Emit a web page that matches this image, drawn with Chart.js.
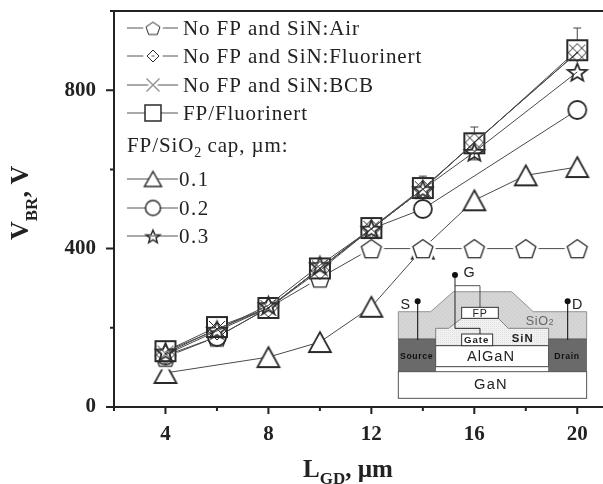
<!DOCTYPE html>
<html>
<head>
<meta charset="utf-8">
<script src="https://cdn.jsdelivr.net/npm/chart.js@4/dist/chart.umd.min.js"></script>
<style>
    html, body { margin: 0; padding: 0; background: #fff; }
    #box { position: relative; width: 603px; height: 484px; overflow: hidden; }
    #inset { position: absolute; left: 370px; top: 260px; }
    #inset text { font-family: "Liberation Sans", sans-serif; fill: #222; text-anchor: middle; }
</style>
</head>
<body>
<div id="box">
    <canvas id="grafico" width="603" height="484"></canvas>
    <svg id="inset" width="233.3" height="224" viewBox="0 0 700 672">
        <defs>
            <pattern id="dotsLight" width="6" height="6" patternUnits="userSpaceOnUse">
                <rect width="6" height="6" fill="#f1f1f1"/><circle cx="2" cy="2" r="1.2" fill="#c4c4c4"/>
            </pattern>
            <pattern id="dotsDark" width="12" height="12" patternUnits="userSpaceOnUse">
                <rect width="12" height="12" fill="#d2d2d2"/><circle cx="3" cy="3" r="1.4" fill="#f4f4f4"/><circle cx="9" cy="9" r="1.4" fill="#f4f4f4"/>
            </pattern>
        </defs>
        <polygon points="85,237 85,155 182,155 250,95 425,95 490,155 650,155 650,237" fill="url(#dotsDark)" stroke="#666" stroke-width="2"/>
        <polygon points="197,257 197,205 236,205 275,175 385,175 415,205 536,205 536,257" fill="url(#dotsLight)" stroke="#555" stroke-width="2"/>
        <rect x="85" y="335" width="565" height="80" fill="#fff" stroke="#555" stroke-width="3"/>
        <rect x="197" y="257" width="339" height="63" fill="#fff" stroke="#444" stroke-width="3"/>
        <rect x="85" y="237" width="112" height="98" fill="#6a6a6a" stroke="#555" stroke-width="2"/>
        <rect x="536" y="237" width="114" height="98" fill="#6a6a6a" stroke="#555" stroke-width="2"/>
        <rect x="275" y="142" width="110" height="33" fill="#fff" stroke="#333" stroke-width="3"/>
        <rect x="275" y="222" width="93" height="35" fill="#fff" stroke="#333" stroke-width="3"/>
        <polyline points="255,45 255,205 330,205 330,222" fill="none" stroke="#222" stroke-width="3"/>
        <polyline points="255,77 330,77 330,142" fill="none" stroke="#333" stroke-width="2.5"/>
        <line x1="143" y1="124" x2="143" y2="240" stroke="#222" stroke-width="3.5"/>
        <line x1="593" y1="124" x2="593" y2="240" stroke="#222" stroke-width="3.5"/>
        <circle cx="255" cy="45" r="9" fill="#111"/>
        <circle cx="143" cy="124" r="9" fill="#111"/>
        <circle cx="593" cy="124" r="9" fill="#111"/>
        <text x="297" y="50" font-size="43">G</text>
        <text x="106" y="146" font-size="43">S</text>
        <text x="622" y="146" font-size="43">D</text>
        <text x="330" y="170" font-size="32" letter-spacing="2">FP</text>
        <text x="510" y="196" font-size="38" letter-spacing="2" style="fill:#666">SiO<tspan font-size="26">2</tspan></text>
        <text x="320" y="250" font-size="29" font-weight="bold" letter-spacing="3">Gate</text>
        <text x="458" y="245" font-size="34" font-weight="bold" letter-spacing="3">SiN</text>
        <text x="363" y="304" font-size="44" letter-spacing="3">AlGaN</text>
        <text x="140" y="296" font-size="26" font-weight="bold" letter-spacing="2" style="fill:#111">Source</text>
        <text x="591" y="296" font-size="26" font-weight="bold" letter-spacing="2" style="fill:#111">Drain</text>
        <text x="363" y="386" font-size="44" letter-spacing="4">GaN</text>
    </svg>
</div>
<script>
// ================= DADOS =================
const xAir = [4, 6, 8, 10, 12, 14, 16, 18, 20];
const yAir = [126, 177, 250, 326, 400, 400, 400, 400, 400];

const xFluorinert = [4, 6, 8, 10, 12, 14, 16, 20];
const yFluorinert = [132, 192, 250, 345, 450, 550, 668, 895];

const xBcb = [4, 6, 8, 10, 12, 14, 16, 20];
const yBcb = [135, 197, 250, 350, 450, 550, 668, 895];

const xFp = [4, 6, 8, 10, 12, 14, 16, 20];
const yFp = [141, 202, 250, 350, 452, 553, 666, 901];

const xCap01 = [4, 8, 10, 12, 14, 16, 18, 20];
const yCap01 = [86, 126, 164, 253, 400, 522, 585, 606];

const xCap02 = [4, 6, 8, 10, 12, 14, 20];
const yCap02 = [130, 177, 250, 350, 450, 500, 750];

const xCap03 = [4, 6, 8, 10, 12, 14, 16, 20];
const yCap03 = [140, 195, 257, 358, 450, 550, 644, 846];

// barras de erro da serie FP/Fluorinert
const errX = [14, 16, 20];
const errHigh = [583, 707, 957];
const errLow = [553, 624, 901];

const xTicks = [4, 8, 12, 16, 20];
const yTicks = [0, 400, 800];

const COR_TEXTO = "#222";
const COR_LINHA = "#4a4a4a";

// ================= MARCADORES =================
function criarMarcador(forma, largura, altura, espessura, halo) {
    const m = 4;
    const c = document.createElement("canvas");
    c.width = largura + m * 2;
    c.height = altura + m * 2;
    const g = c.getContext("2d");
    const cx = c.width / 2, cy = c.height / 2;
    const rx = largura / 2, ry = altura / 2;
    let fundo = "#fff";

    g.beginPath();
    if (forma === "quadrado") {
        g.rect(cx - rx, cy - ry, largura, altura);
    } else if (forma === "circulo") {
        g.arc(cx, cy, rx, 0, Math.PI * 2);
    } else if (forma === "triangulo") {
        g.moveTo(cx, cy - ry); g.lineTo(cx + rx, cy + ry); g.lineTo(cx - rx, cy + ry); g.closePath();
    } else if (forma === "losango") {
        fundo = null;
        g.moveTo(cx, cy - ry); g.lineTo(cx + rx, cy); g.lineTo(cx, cy + ry); g.lineTo(cx - rx, cy); g.closePath();
    } else if (forma === "xis") {
        fundo = null;
        g.moveTo(cx - rx, cy - ry); g.lineTo(cx + rx, cy + ry);
        g.moveTo(cx + rx, cy - ry); g.lineTo(cx - rx, cy + ry);
    } else if (forma === "pentagono") {
        for (let i = 0; i < 5; i++) {
            const a = -Math.PI / 2 + i * 2 * Math.PI / 5;
            g.lineTo(cx + rx * 1.05 * Math.cos(a), cy + 1 + ry * 1.05 * Math.sin(a));
        }
        g.closePath();
    } else if (forma === "estrela") {
        fundo = null;
        for (let i = 0; i < 10; i++) {
            const a = -Math.PI / 2 + i * Math.PI / 5;
            const r = i % 2 === 0 ? 1.05 : 0.45;
            g.lineTo(cx + rx * r * Math.cos(a), cy + 1 + ry * r * Math.sin(a));
        }
        g.closePath();
    }
    if (halo) {
        g.strokeStyle = "#fff";
        g.lineWidth = espessura + 5;
        g.stroke();
    }
    if (fundo) {
        g.fillStyle = fundo;
        g.fill();
    }
    g.strokeStyle = "#2a2a2a";
    g.lineWidth = espessura;
    g.stroke();
    return c;
}

function pontos(xs, ys) {
    return xs.map((x, i) => ({ x: x, y: ys[i] }));
}

function serie(nome, xs, ys, marcador) {
    return {
        label: nome,
        data: pontos(xs, ys),
        borderColor: COR_LINHA,
        borderWidth: 1,
        tension: 0,
        pointStyle: marcador,
        pointRadius: 10,
        pointHoverRadius: 10
    };
}

// ================= LEGENDA =================
const legendaLinhas = [
    { y: 28, texto: "No FP and SiN:Air", marcador: criarMarcador("pentagono", 14, 13, 1, true) },
    { y: 56, texto: "No FP and SiN:Fluorinert", marcador: criarMarcador("losango", 12, 12, 1, true) },
    { y: 85, texto: "No FP and SiN:BCB", marcador: criarMarcador("xis", 13, 13, 1, true) },
    { y: 113, texto: "FP/Fluorinert", marcador: criarMarcador("quadrado", 16, 16, 1.5) },
    { y: 179, texto: "0.1", marcador: criarMarcador("triangulo", 17, 15, 1.5) },
    { y: 208, texto: "0.2", marcador: criarMarcador("circulo", 15, 15, 1.5) },
    { y: 236, texto: "0.3", marcador: criarMarcador("estrela", 14, 13, 1.5) }
];

function escrever(ctx, pedacos, x, y) {
    pedacos.forEach(p => {
        ctx.font = p.fonte;
        ctx.letterSpacing = p.espaco || "0px";
        ctx.fillText(p.texto, x, y + (p.dy || 0));
        x += ctx.measureText(p.texto).width;
    });
    ctx.letterSpacing = "0px";
}

const pluginExtras = {
    id: "extras",
    beforeDatasetsDraw(chart) {
        // barras de erro, por baixo dos marcadores
        const ctx = chart.ctx;
        const sx = chart.scales.x, sy = chart.scales.y;
        ctx.save();
        ctx.strokeStyle = "#444";
        ctx.lineWidth = 1;
        errX.forEach((v, i) => {
            const px = sx.getPixelForValue(v);
            const alto = sy.getPixelForValue(errHigh[i]);
            const baixo = sy.getPixelForValue(errLow[i]);
            ctx.beginPath();
            ctx.moveTo(px, alto); ctx.lineTo(px, baixo);
            ctx.moveTo(px - 4, alto); ctx.lineTo(px + 4, alto);
            if (errLow[i] < yFp[xFp.indexOf(v)]) {
                ctx.moveTo(px - 4, baixo); ctx.lineTo(px + 4, baixo);
            }
            ctx.stroke();
        });
        ctx.restore();
    },
    afterDraw(chart) {
        const ctx = chart.ctx;
        const sx = chart.scales.x, sy = chart.scales.y;
        const area = chart.chartArea;
        ctx.save();

        // eixos e marcas
        ctx.strokeStyle = "#222";
        ctx.lineWidth = 2;
        ctx.beginPath();
        ctx.moveTo(area.left, area.top); ctx.lineTo(area.right, area.top);
        ctx.moveTo(area.left, area.top); ctx.lineTo(area.left, area.bottom + 2);
        ctx.moveTo(area.left, area.bottom); ctx.lineTo(area.right, area.bottom);
        sy.ticks.forEach(t => {
            const p = sy.getPixelForValue(t.value);
            const maior = yTicks.includes(t.value);
            ctx.moveTo(area.left - (maior ? 8 : 4), p);
            ctx.lineTo(area.left + (t.value === 0 ? 5 : 0), p);
        });
        sx.ticks.forEach(t => {
            const p = sx.getPixelForValue(t.value);
            ctx.moveTo(p, area.bottom);
            ctx.lineTo(p, area.bottom + (xTicks.includes(t.value) ? 7 : 4));
        });
        ctx.stroke();

        // legenda
        ctx.textBaseline = "alphabetic";
        ctx.fillStyle = COR_TEXTO;
        ctx.strokeStyle = "#555";
        ctx.lineWidth = 1;
        legendaLinhas.forEach(l => {
            ctx.beginPath();
            ctx.moveTo(127, l.y); ctx.lineTo(178, l.y);
            ctx.stroke();
            ctx.drawImage(l.marcador, 153 - l.marcador.width / 2, l.y - l.marcador.height / 2);
            const ehCap = l.texto.length === 3;
            escrever(ctx, [{ texto: l.texto, fonte: "21px 'Liberation Serif'", espaco: ehCap ? "1.5px" : "0.9px" }], ehCap ? 179 : 183, l.y + 7);
        });
        escrever(ctx, [
            { texto: "FP/SiO", fonte: "21px 'Liberation Serif'", espaco: "0.9px" },
            { texto: "2", fonte: "14px 'Liberation Serif'", dy: 5 },
            { texto: " cap, µm:", fonte: "21px 'Liberation Serif'", espaco: "0.9px" }
        ], 127, 152);

        // titulos dos eixos
        escrever(ctx, [
            { texto: "L", fonte: "bold 25px 'Liberation Serif'" },
            { texto: "GD", fonte: "bold 17px 'Liberation Serif'", dy: 7 },
            { texto: ", µm", fonte: "bold 25px 'Liberation Serif'" }
        ], 303, 477);

        ctx.translate(28, 240);
        ctx.rotate(-Math.PI / 2);
        escrever(ctx, [
            { texto: "V", fonte: "bold 26px 'Liberation Serif'" },
            { texto: "BR", fonte: "bold 17px 'Liberation Serif'", dy: 9 },
            { texto: ", V", fonte: "bold 26px 'Liberation Serif'" }
        ], 0, 0);
        ctx.restore();
    }
};

// zera as folgas que o Chart.js reserva para os rotulos nas pontas
function semFolga(scale) {
    scale.paddingTop = 0;
    scale.paddingBottom = 0;
    scale.paddingLeft = 0;
    scale.paddingRight = 0;
}

// ================= GRAFICO =================
new Chart(document.getElementById("grafico").getContext("2d"), {
    type: "line",
    data: {
        // o primeiro dataset fica por cima
        datasets: [
            serie("0.3", xCap03, yCap03, criarMarcador("estrela", 19, 18, 1.8)),
            serie("No FP and SiN:BCB", xBcb, yBcb, criarMarcador("xis", 16, 16, 1)),
            serie("No FP and SiN:Fluorinert", xFluorinert, yFluorinert, criarMarcador("losango", 18, 18, 1)),
            serie("FP/Fluorinert", xFp, yFp, criarMarcador("quadrado", 20, 20, 2)),
            serie("0.2", xCap02, yCap02, criarMarcador("circulo", 18, 18, 1.8)),
            serie("No FP and SiN:Air", xAir, yAir, criarMarcador("pentagono", 20, 19, 1.3, true)),
            serie("0.1", xCap01, yCap01, criarMarcador("triangulo", 22, 20, 1.8))
        ]
    },
    options: {
        responsive: false,
        animation: false,
        layout: { autoPadding: false, padding: { top: 11, right: 0, left: 0, bottom: 0 } },
        plugins: { legend: { display: false }, tooltip: { enabled: false } },
        scales: {
            x: {
                type: "linear",
                min: 2,
                max: 21,
                afterFit(scale) { scale.height = 77; semFolga(scale); },
                grid: { display: false },
                border: { display: false },
                ticks: {
                    stepSize: 2,
                    includeBounds: false,
                    autoSkip: false,
                    maxRotation: 0,
                    padding: 7,
                    color: COR_TEXTO,
                    font: { family: "'Liberation Serif'", size: 21, weight: "bold" },
                    callback: v => xTicks.includes(v) ? String(v) : ""
                }
            },
            y: {
                type: "linear",
                min: 0,
                max: 1000,
                afterFit(scale) { scale.width = 114; semFolga(scale); },
                grid: { display: false },
                border: { display: false },
                ticks: {
                    stepSize: 200,
                    autoSkip: false,
                    padding: 10,
                    color: COR_TEXTO,
                    font: { family: "'Liberation Serif'", size: 21, weight: "bold" },
                    callback: v => yTicks.includes(v) ? String(v) : ""
                }
            }
        }
    },
    plugins: [pluginExtras]
});
</script>
</body>
</html>
